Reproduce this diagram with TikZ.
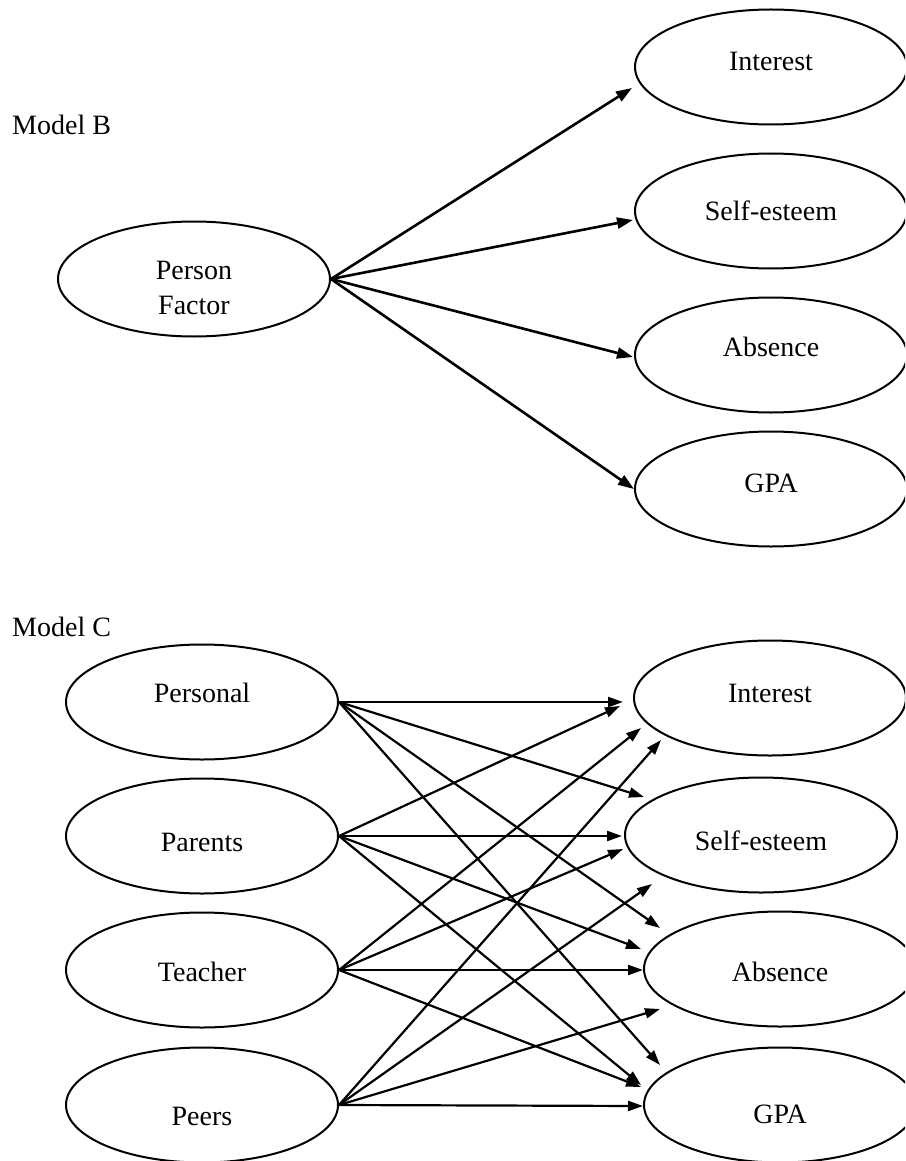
\documentclass[tikz,border=0pt]{standalone}
\usepackage{fontspec}
\setmainfont{Liberation Serif}
\usetikzlibrary{shapes.geometric,arrows.meta,calc}
\begin{document}
\begin{tikzpicture}[x=1pt,y=-1pt,
  ell/.style={draw, ellipse, line width=2pt, minimum width=272pt, minimum height=115pt, inner sep=0pt,
              font=\fontsize{28}{35}\selectfont, align=center},
  tup/.style={text height=19pt, text depth=#1},
  tdn/.style={text height=#1, text depth=0pt},
  lbl/.style={anchor=base west, inner sep=0pt, font=\fontsize{28}{35}\selectfont},
  arrB/.style={line width=2.6pt, -{Triangle[length=16pt,width=11pt]}},
  arrC/.style={line width=2.2pt, -{Triangle[length=15pt,width=10pt]}}]
\useasboundingbox (0,0) rectangle (905,1161);
\clip (0,0) rectangle (905,1161);

% ---------------- Model B ----------------
\node[lbl] (mB) at (12,135) {Model B};
\node[ell, text height=71pt, text depth=0pt] (pf) at (194,279) {Person\\Factor};
\node[ell, tup=12pt] (iB) at (771,67) {Interest};
\node[ell] (sB) at (771,211) {Self-esteem};
\node[ell, tup=16pt] (aB) at (771,355) {Absence};
\node[ell, tup=12pt] (gB) at (771,489) {GPA};

\draw[arrB] (pf.east) -- ($(iB.west)+(-2,21)$);
\draw[arrB] (pf.east) -- ($(sB.west)+(-1,9)$);
\draw[arrB] (pf.east) -- ($(aB.west)+(-1,2)$);
\draw[arrB] (pf.east) -- (gB.west);

% ---------------- Model C ----------------
\node[lbl] (mC) at (12,636) {Model C};
\node[ell, tup=18pt] (per) at (202,702) {Personal};
\node[ell, tdn=31pt] (par) at (202,836) {Parents};
\node[ell, tdn=23pt] (tea) at (202,970) {Teacher};
\node[ell, tdn=40pt] (pee) at (202,1105) {Peers};

\node[ell, tup=10pt] (iC) at (770,698) {Interest};
\node[ell, tdn=31pt] (sC) at (761,835) {Self-esteem};
\node[ell, tdn=25pt] (aC) at (780,969) {Absence};
\node[ell, tdn=37pt] (gC) at (780,1105) {GPA};

% from Personal
\draw[arrC] (per.east) -- ($(iC.west)+(-10,4)$);
\draw[arrC] (per.east) -- ($(sC.west)+(20,-38)$);
\draw[arrC] (per.east) -- ($(aC.west)+(17,-41)$);
\draw[arrC] (per.east) -- ($(gC.west)+(17,-40)$);
% from Parents
\draw[arrC] (par.east) -- ($(iC.west)+(-13,8)$);
\draw[arrC] (par.east) -- ($(sC.west)+(-2,1)$);
\draw[arrC] (par.east) -- ($(aC.west)+(-2,-20)$);
\draw[arrC] (par.east) -- ($(gC.west)+(-2,-20)$);
% from Teacher
\draw[arrC] (tea.east) -- ($(iC.west)+(8,30)$);
\draw[arrC] (tea.east) -- ($(sC.west)+(-1,14)$);
\draw[arrC] (tea.east) -- ($(aC.west)+(0,1)$);
\draw[arrC] (tea.east) -- ($(gC.west)+(-2,-18)$);
% from Peers
\draw[arrC] (pee.east) -- ($(iC.west)+(28,42)$);
\draw[arrC] (pee.east) -- ($(sC.west)+(28,49)$);
\draw[arrC] (pee.east) -- ($(aC.west)+(17,40)$);
\draw[arrC] (pee.east) -- ($(gC.west)+(0,1)$);
\end{tikzpicture}
\end{document}
